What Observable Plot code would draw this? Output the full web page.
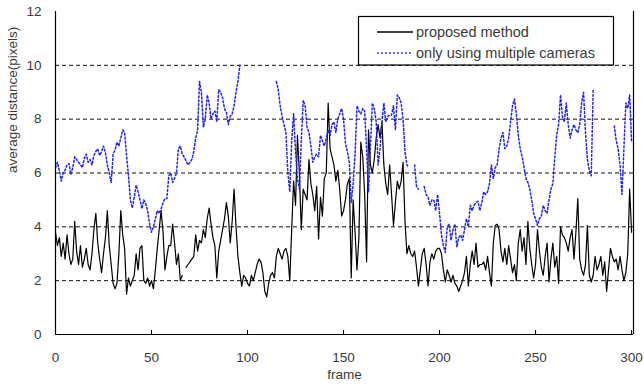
<!DOCTYPE html>
<html>
<head>
<meta charset="utf-8">
<script src="https://cdn.jsdelivr.net/npm/d3@7"></script>
<script src="https://cdn.jsdelivr.net/npm/@observablehq/plot@0.6"></script>
<style>
  html, body { margin: 0; padding: 0; background: #fff; }
  #chart { width: 644px; height: 388px; }
</style>
</head>
<body>
<div id="chart"></div>
<script>
const xTicks = [0, 50, 100, 150, 200, 250, 300];
const yTicks = [0, 2, 4, 6, 8, 10, 12];
const gridValues = [2, 4, 6, 8, 10];
const seriesNames = ["proposed method", "only using multiple cameras"];

const proposed = [
  3.8,3.3,3.6,2.9,3.4,2.8,3.7,3.0,2.6,2.8,
  4.2,3.1,2.6,3.3,2.5,2.8,3.2,2.6,2.4,3.0,
  3.9,4.5,3.4,2.8,2.3,3.0,3.6,4.6,3.3,2.6,
  1.9,1.7,1.9,3.0,4.6,3.7,3.2,1.5,2.1,1.8,
  2.0,2.2,3.0,2.4,3.2,3.3,2.0,1.9,2.1,1.8,
  2.0,1.7,2.4,3.2,3.9,4.6,3.8,2.4,2.9,3.3,
  3.3,4.1,3.4,2.6,3.0,2.0,2.2,null,2.5,2.6,
  2.7,2.8,2.9,3.7,3.1,3.5,3.4,3.9,3.6,4.3,
  4.7,4.1,3.6,3.3,2.1,3.1,3.5,3.9,4.3,4.9,
  4.4,3.4,4.2,5.4,4.0,2.9,2.3,1.8,2.2,2.1,
  1.9,1.8,2.2,2.0,2.3,2.6,2.8,2.7,2.3,1.6,
  1.4,1.9,2.2,2.3,2.1,2.9,3.2,3.0,2.8,3.1,
  3.2,2.9,2.0,3.9,5.7,4.8,7.4,6.0,3.9,5.4,
  5.2,5.0,6.5,5.6,5.2,4.6,5.5,3.55,5.1,4.4,
  5.8,6.0,8.6,6.9,6.6,6.3,5.7,6.1,5.4,4.4,
  4.6,5.0,5.6,5.8,2.1,5.0,3.8,2.4,3.6,7.15,
  6.6,5.2,2.7,7.6,6.3,6.0,6.5,7.3,7.8,7.3,
  7.9,6.3,5.6,5.2,6.3,5.2,4.05,4.9,5.7,5.4,
  5.7,6.4,4.2,3.0,3.3,3.0,2.9,3.1,2.5,1.8,
  2.4,3.0,3.2,2.6,1.8,2.7,3.0,2.8,3.1,3.2,
  3.2,3.0,2.4,1.95,2.4,2.2,1.95,2.2,1.9,1.8,
  1.6,1.8,2.0,2.3,2.9,1.8,2.6,3.1,2.6,3.4,
  2.5,2.6,2.6,2.7,2.4,2.9,2.3,1.8,3.4,4.05,
  4.1,3.9,3.1,2.7,3.2,2.6,3.3,2.8,2.3,2.6,
  2.0,3.4,3.9,3.1,3.6,2.6,4.2,3.2,2.6,2.1,
  2.6,3.9,3.1,2.5,2.2,2.9,3.4,1.95,2.8,3.4,
  2.5,2.9,1.9,4.0,3.7,3.6,3.4,3.1,3.6,3.9,
  2.8,3.8,5.05,2.8,2.4,2.2,2.6,4.05,2.2,1.95,
  2.2,2.9,2.4,2.6,2.9,2.2,2.7,1.6,2.4,3.2,
  2.9,2.7,2.8,2.4,2.9,2.4,2.0,2.3,3.0,5.4,
  3.8
];

const multiCameras = [
  6.2,6.4,6.1,5.7,6.0,6.1,6.3,6.35,5.95,6.2,
  6.6,6.5,6.4,6.3,6.2,6.55,6.7,6.4,6.5,6.3,
  6.65,6.8,6.9,6.65,6.8,7.0,6.75,6.3,6.0,5.65,
  6.7,6.85,7.15,7.0,7.3,7.6,7.5,6.65,5.9,5.0,
  4.7,5.1,5.55,5.3,5.0,4.67,5.0,4.85,4.6,4.1,
  3.8,4.0,4.3,4.6,4.5,4.67,4.9,5.05,5.05,5.9,
  6.0,5.65,5.8,6.0,6.9,7.0,6.7,6.6,6.45,6.3,
  6.4,6.5,6.8,7.3,7.6,9.4,9.0,7.7,8.0,8.9,
  8.6,8.0,8.2,8.3,7.9,9.1,9.0,8.8,8.4,8.25,
  7.8,8.1,8.2,8.5,9.0,9.4,10.0,null,null,null,
  null,null,null,null,null,null,null,null,null,null,
  null,null,null,null,null,9.4,9.1,8.5,8.1,7.8,
  7.5,6.0,5.3,7.2,8.2,6.8,5.8,5.4,7.2,8.7,
  8.5,7.7,7.5,7.0,6.4,6.6,6.7,6.6,7.4,7.2,
  7.0,7.3,7.6,7.4,7.8,7.9,7.5,8.0,8.2,8.4,
  8.0,7.1,6.8,6.4,4.9,5.6,6.7,8.5,8.3,8.2,
  8.4,8.3,6.9,5.3,7.0,8.6,8.4,7.9,6.3,6.9,
  7.9,8.6,7.9,8.1,8.15,8.15,8.5,7.6,8.9,8.8,
  8.6,8.0,6.8,6.3,6.2,null,null,6.3,5.5,5.4,
  null,null,5.5,5.2,5.1,4.8,5.0,5.0,4.6,5.2,
  4.5,3.7,3.3,3.05,4.0,4.1,3.5,3.9,4.1,3.25,
  3.6,3.7,3.5,3.9,4.3,4.0,4.8,4.6,4.8,4.9,
  4.95,4.6,4.9,5.3,5.2,5.3,5.6,6.3,5.8,6.2,
  6.3,6.9,7.3,7.5,6.9,7.0,7.3,7.9,8.5,8.75,
  8.2,7.4,6.9,6.6,6.2,5.8,5.65,5.4,5.0,4.5,
  4.3,4.05,4.3,4.4,4.8,4.6,4.5,5.0,5.4,5.6,
  6.6,7.4,7.8,8.9,8.1,7.9,8.6,7.8,7.3,7.6,
  7.8,7.6,7.5,7.8,8.6,9.0,7.5,6.5,6.1,5.9,
  9.1,null,null,null,null,null,null,null,null,null,
  null,7.75,7.2,6.9,6.3,5.2,6.9,8.6,8.4,8.9,
  7.15
];

const frames = proposed.map((_, i) => i);
const blackData = frames.map(i => ({frame: i, value: proposed[i]}));
const blueData = frames.map(i => ({frame: i, value: multiCameras[i]}));
const xMax = 301;
const blue = "#1f1fff";

const chart = Plot.plot({
  width: 644,
  height: 388,
  marginLeft: 55,
  marginRight: 11,
  marginTop: 11,
  marginBottom: 54,
  style: {fontFamily: "'Liberation Sans', Arial, sans-serif", fontSize: "13.5px", background: "#fff", color: "#3a3a3a"},
  x: {domain: [0, xMax]},
  y: {domain: [0, 12]},
  marks: [
    Plot.ruleY(gridValues, {x1: 0, x2: xMax, stroke: "#111", strokeWidth: 1, strokeDasharray: "4,3"}),
    Plot.line(blackData, {x: "frame", y: "value", stroke: "#000", strokeWidth: 1.2}),
    Plot.line(blueData, {x: "frame", y: "value", stroke: blue, strokeWidth: 1.5, strokeDasharray: "1.8,2.2"}),
    Plot.ruleX([0, xMax], {y1: 0, y2: 12, stroke: "#000", strokeWidth: 1.2}),
    Plot.ruleY([0], {x1: 0, x2: xMax, stroke: "#000", strokeWidth: 1.2}),
    Plot.ruleX(xTicks, {y1: 0, y2: 0.15, stroke: "#000"}),
    Plot.axisX({ticks: xTicks, tickSize: 0, tickPadding: 18, label: null, fill: "#3a3a3a"}),
    Plot.axisY({ticks: yTicks, tickSize: 0, tickPadding: 14, label: null, fill: "#3a3a3a"}),
    Plot.text(["frame"], {frameAnchor: "bottom", dy: 44, fill: "#3a3a3a"}),
    Plot.text(["average distance(pixels)"], {frameAnchor: "left", dx: -43, rotate: -90, fill: "#3a3a3a"})
  ]
});

// Legend
const svg = d3.select(chart);
const lg = svg.append("g")
  .style("font-family", "'Liberation Sans', Arial, sans-serif")
  .style("font-size", "14.5px");
lg.append("rect").attr("x", 358.5).attr("y", 16.5).attr("width", 255).attr("height", 48.5)
  .style("fill", "#fff").style("stroke", "#000").style("stroke-width", "1.2");
const entries = [
  {name: seriesNames[0], stroke: "#000", dash: "none", w: 1.3},
  {name: seriesNames[1], stroke: blue, dash: "1.8,2.2", w: 1.5}
];
entries.forEach((e, i) => {
  const y = 32 + i * 21;
  lg.append("path").attr("d", `M377,${y}H413`)
    .style("fill", "none").style("stroke", e.stroke).style("stroke-width", e.w)
    .style("stroke-dasharray", e.dash);
  lg.append("text").attr("x", 416).attr("y", y).attr("dy", "0.35em")
    .style("text-anchor", "start").style("fill", "#3a3a3a").text(e.name);
});

document.getElementById("chart").appendChild(chart);
</script>
</body>
</html>
